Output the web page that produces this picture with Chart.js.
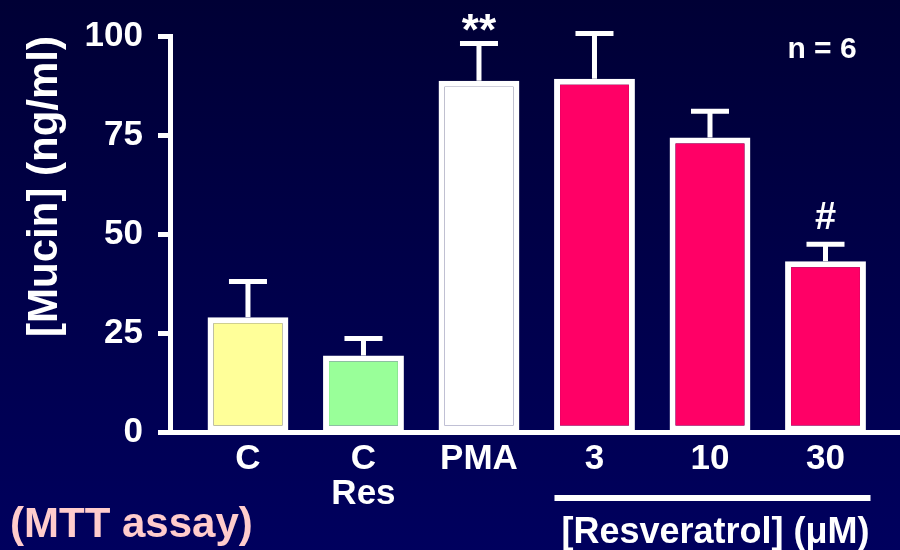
<!DOCTYPE html>
<html>
<head>
<meta charset="utf-8">
<script src="https://cdn.jsdelivr.net/npm/chart.js@4/dist/chart.umd.min.js"></script>
<style>
    html, body { margin: 0; padding: 0; }
    body { width: 900px; height: 550px; background: linear-gradient(#000035, #00005e); }
    #wrap { position: relative; width: 900px; height: 550px; }
</style>
</head>
<body>
<div id="wrap"><canvas id="mucin"></canvas></div>
<script>
// values
const categories = ['C', ['C', 'Res'], 'PMA', '3', '10', '30'];
const means = [29, 19.3, 88.7, 89.2, 74.4, 43.1];
const sems = [9, 4.3, 9.4, 11.4, 6.6, 4.3];
const marks = ['', '', '**', '', '', '#'];
const barColors = ['#ffff99', '#99ff99', '#ffffff', '#ff0066', '#ff0066', '#ff0066'];
const yTicks = [0, 25, 50, 75, 100];

const FONT = '"Liberation Sans", Arial, sans-serif';

// upper-only error bars + significance marks
const errorBars = {
    id: 'errorBars',
    afterDatasetsDraw(chart) {
        const ctx = chart.ctx;
        const xs = chart.scales.x, ys = chart.scales.y;
        ctx.save();
        ctx.strokeStyle = '#ffffff';
        ctx.fillStyle = '#ffffff';
        ctx.lineWidth = 5;
        means.forEach((m, i) => {
            const x = xs.getPixelForValue(i);
            const y0 = ys.getPixelForValue(m);
            const y1 = ys.getPixelForValue(m + sems[i]);
            ctx.beginPath();
            ctx.moveTo(x, y0);
            ctx.lineTo(x, y1);
            ctx.moveTo(x - 19, y1);
            ctx.lineTo(x + 19, y1);
            ctx.stroke();
            ctx.textAlign = 'center';
            ctx.textBaseline = 'alphabetic';
            if (marks[i] === '**') {
                ctx.font = 'bold 44px ' + FONT;
                ctx.fillText(marks[i], x, y1 + 1);
            } else if (marks[i]) {
                ctx.font = 'bold 38px ' + FONT;
                ctx.fillText(marks[i], x, y1 - 15);
            }
        });
        ctx.restore();
    }
};

const extraText = {
    id: 'extraText',
    afterDraw(chart) {
        const ctx = chart.ctx;
        const xs = chart.scales.x;
        ctx.save();
        ctx.fillStyle = '#ffffff';
        ctx.textBaseline = 'alphabetic';
        ctx.font = 'bold 30px ' + FONT;
        ctx.textAlign = 'center';
        ctx.fillText('n = 6', 822, 58);

        // bracket line under the resveratrol doses
        const left = xs.getPixelForValue(3) - 40;
        const right = xs.getPixelForValue(5) + 45;
        ctx.fillRect(left, 495, right - left, 6);
        ctx.font = 'bold 36px ' + FONT;
        ctx.fillText('[Resveratrol] (\u03bcM)', (left + right) / 2 + 3, 543);

        ctx.fillStyle = '#ffcccc';
        ctx.textAlign = 'left';
        ctx.font = 'bold 42px ' + FONT;
        ctx.fillText('(MTT assay)', 10, 537);
        ctx.restore();
    }
};

const ctx = document.getElementById('mucin').getContext('2d');
new Chart(ctx, {
    type: 'bar',
    data: {
        datasets: [{
            data: means.map((v, i) => ({ x: i, y: v })),
            backgroundColor: barColors,
            borderColor: '#ffffff',
            borderWidth: 6,
            borderSkipped: false,
            barPercentage: 0.7,
            categoryPercentage: 1
        }]
    },
    options: {
        responsive: true,
        maintainAspectRatio: false,
        animation: false,
        layout: { padding: { top: 33, left: 0, right: 0, bottom: 0 } },
        plugins: {
            legend: { display: false },
            tooltip: { enabled: false }
        },
        scales: {
            x: {
                type: 'linear',
                offset: false,
                min: -0.675,
                max: 5.645,
                afterBuildTicks: scale => { scale.ticks = categories.map((c, i) => ({ value: i })); },
                afterFit: scale => { scale.height = 118; },
                grid: { display: false, drawTicks: false },
                border: { display: true, color: '#ffffff', width: 5 },
                ticks: {
                    autoSkip: false,
                    maxRotation: 0,
                    padding: 10,
                    color: '#ffffff',
                    font: { family: FONT, size: 35, weight: 'bold', lineHeight: 1.0 },
                    callback: value => categories[value]
                }
            },
            y: {
                min: 0,
                max: 100,
                afterBuildTicks: scale => { scale.ticks = yTicks.map(v => ({ value: v })); },
                afterFit: scale => { scale.width = 170; },
                grid: {
                    drawOnChartArea: false,
                    drawTicks: true,
                    tickLength: 12,
                    tickWidth: 5,
                    color: '#ffffff'
                },
                border: { display: true, color: '#ffffff', width: 5 },
                ticks: {
                    padding: 15,
                    color: '#ffffff',
                    font: { family: FONT, size: 35, weight: 'bold' }
                },
                title: {
                    display: true,
                    text: '[Mucin] (ng/ml)',
                    align: 'end',
                    color: '#ffffff',
                    padding: { top: 20, bottom: 0 },
                    font: { family: FONT, size: 42, weight: 'bold' }
                }
            }
        }
    },
    plugins: [errorBars, extraText]
});
</script>
</body>
</html>
